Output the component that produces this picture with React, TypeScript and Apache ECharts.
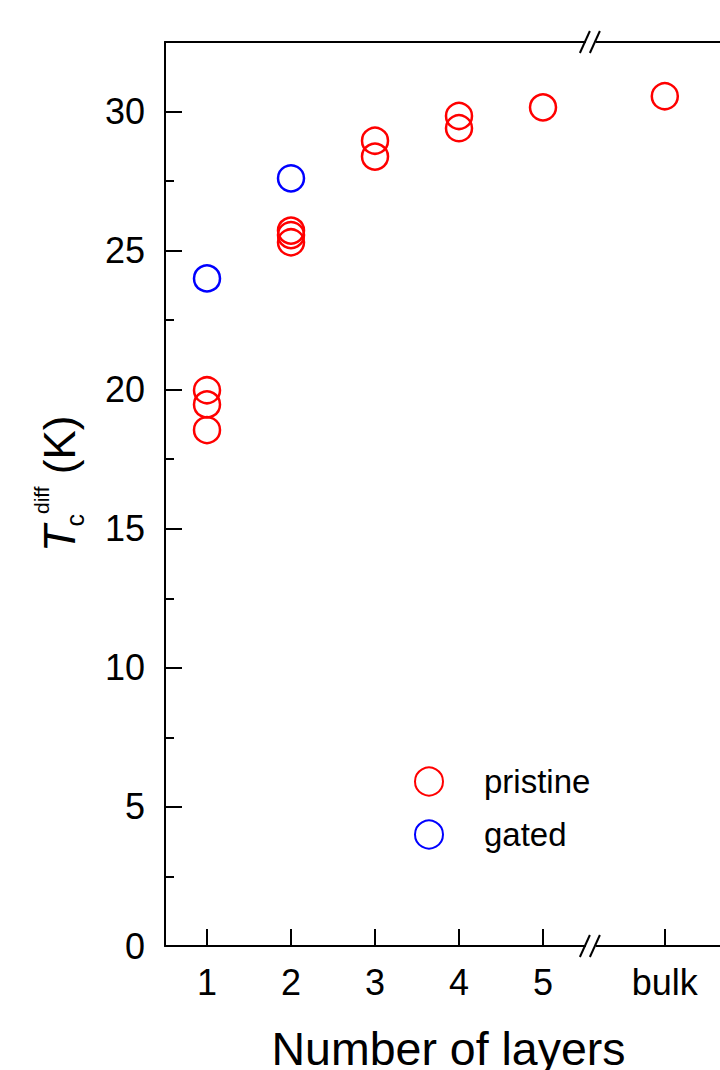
import React, { useEffect, useRef } from "react";
import * as echarts from "echarts";

const FONT = "'Liberation Sans', Arial, sans-serif";

// x positions of the categories on the (broken) layer axis
const BULK_X = 6.45;
const BREAK_X = 5.57;
const X_MIN = 0.5;
const X_MAX = 7.25;
const Y_MIN = 0;
const Y_MAX = 32.5;

const tickPositions = [1, 2, 3, 4, 5, BULK_X];
const tickLabels = ["1", "2", "3", "4", "5", "bulk"];

const pristineLayers = [1, 1, 1, 2, 2, 2, 3, 3, 4, 4, 5, BULK_X];
const pristineTc = [19.98, 19.47, 18.55, 25.72, 25.56, 25.3, 28.95, 28.38, 29.84, 29.4, 30.15, 30.55];

const gatedLayers = [1, 2];
const gatedTc = [24.0, 27.6];

const yMajorTicks = [0, 5, 10, 15, 20, 25, 30];
const yMinorTicks = [2.5, 7.5, 12.5, 17.5, 22.5, 27.5];

const zip = (xs: number[], ys: number[]) => xs.map((x, i) => [x, ys[i]]);

export default function App() {
  const ref = useRef<HTMLDivElement>(null);

  useEffect(() => {
    if (!ref.current) return;
    const chart = echarts.init(ref.current, undefined, { renderer: "svg" });
    const black = "#000";
    const lineStyle = { color: black, width: 2 };
    const gridBox = { left: 165, right: 0, top: 42, bottom: 124, outerBoundsMode: "none", containLabel: false };

    const option: any = {
      animation: false,
      backgroundColor: "#fff",
      textStyle: { fontFamily: FONT },
      grid: [{ ...gridBox }, { ...gridBox }],
      xAxis: [
        {
          gridIndex: 0,
          type: "value",
          min: X_MIN,
          max: X_MAX,
          position: "bottom",
          axisLine: { show: true, onZero: false, lineStyle },
          axisTick: { show: true, inside: true, length: 17, customValues: tickPositions, lineStyle },
          axisLabel: {
            customValues: tickPositions,
            formatter: (v: number) => {
              const i = tickPositions.findIndex((p) => Math.abs(p - v) < 1e-6);
              return i >= 0 ? tickLabels[i] : "";
            },
            fontSize: 36,
            color: black,
            margin: 18,
            fontFamily: FONT,
          },
          splitLine: { show: false },
          name: "Number of layers",
          nameLocation: "middle",
          nameGap: 79,
          nameTextStyle: { fontSize: 46.5, color: black, fontFamily: FONT },
        },
        {
          gridIndex: 0,
          type: "value",
          min: X_MIN,
          max: X_MAX,
          position: "top",
          axisLine: { show: true, onZero: false, lineStyle },
          axisTick: { show: false },
          axisLabel: { show: false },
          splitLine: { show: false },
        },
        { gridIndex: 1, type: "value", min: X_MIN, max: X_MAX, show: false },
      ],
      yAxis: [
        {
          gridIndex: 0,
          type: "value",
          min: Y_MIN,
          max: Y_MAX,
          position: "left",
          axisLine: { show: true, onZero: false, lineStyle },
          axisTick: { show: true, inside: true, length: 17, customValues: yMajorTicks, lineStyle },
          axisLabel: { customValues: yMajorTicks, fontSize: 36, color: black, margin: 20, fontFamily: FONT },
          splitLine: { show: false },
          name: "{t|T}{c|c}{d|diff}{k| (K)}",
          nameLocation: "middle",
          nameGap: 78,
          nameTextStyle: {
            color: black,
            fontFamily: FONT,
            padding: [0, 0, 0, 22],
            rich: {
              t: { fontSize: 44, fontStyle: "italic", fontFamily: FONT, color: black, lineHeight: 56, verticalAlign: "middle", width: 24 },
              c: { fontSize: 25, fontFamily: FONT, color: black, lineHeight: 22, verticalAlign: "bottom" },
              d: { fontSize: 21, fontFamily: FONT, color: black, lineHeight: 22, verticalAlign: "top" },
              k: { fontSize: 44, fontFamily: FONT, color: black, lineHeight: 56, verticalAlign: "middle" },
            },
          },
        },
        {
          gridIndex: 1,
          type: "value",
          min: Y_MIN,
          max: Y_MAX,
          position: "left",
          axisLine: { show: false },
          axisTick: { show: true, inside: true, length: 9, customValues: yMinorTicks, lineStyle },
          axisLabel: { show: false },
          splitLine: { show: false },
        },
      ],
      legend: {
        orient: "vertical",
        left: 409,
        top: 760,
        itemWidth: 28,
        itemHeight: 28,
        itemGap: 20,
        data: ["pristine", "gated"],
        textStyle: { fontSize: 33, color: black, fontFamily: FONT, padding: [0, 0, 0, 36] },
      },
      series: [
        {
          name: "pristine",
          type: "scatter",
          xAxisIndex: 0,
          yAxisIndex: 0,
          symbol: "circle",
          symbolSize: 26,
          itemStyle: { color: "rgba(255,255,255,0)", borderColor: "#ff0000", borderWidth: 2.5, opacity: 1 },
          data: zip(pristineLayers, pristineTc),
        },
        {
          name: "gated",
          type: "scatter",
          xAxisIndex: 0,
          yAxisIndex: 0,
          symbol: "circle",
          symbolSize: 26,
          itemStyle: { color: "rgba(255,255,255,0)", borderColor: "#0000ff", borderWidth: 2.5, opacity: 1 },
          data: zip(gatedLayers, gatedTc),
        },
      ],
    };
    chart.setOption(option);

    // axis-break marks "//" on bottom and top axis lines
    const cx = chart.convertToPixel({ xAxisIndex: 0 }, BREAK_X) as number;
    const yBottom = chart.convertToPixel({ yAxisIndex: 0 }, Y_MIN) as number;
    const yTop = chart.convertToPixel({ yAxisIndex: 0 }, Y_MAX) as number;
    const breakMark = (cy: number) => [
      { type: "rect", shape: { x: cx - 5, y: cy - 3, width: 10, height: 6 }, style: { fill: "#fff" }, z: 100 },
      { type: "line", shape: { x1: cx - 11, y1: cy + 11, x2: cx - 1, y2: cy - 11 }, style: { stroke: black, lineWidth: 2 }, z: 101 },
      { type: "line", shape: { x1: cx - 1, y1: cy + 11, x2: cx + 9, y2: cy - 11 }, style: { stroke: black, lineWidth: 2 }, z: 101 },
    ];
    chart.setOption({ graphic: [...breakMark(yBottom), ...breakMark(yTop)] });

    return () => chart.dispose();
  }, []);

  return (
    <div style={{ position: "absolute", left: 0, top: 0, width: 720, height: 1070, overflow: "hidden", background: "#fff" }}>
      <div ref={ref} style={{ width: 732, height: 1070 }} />
    </div>
  );
}
